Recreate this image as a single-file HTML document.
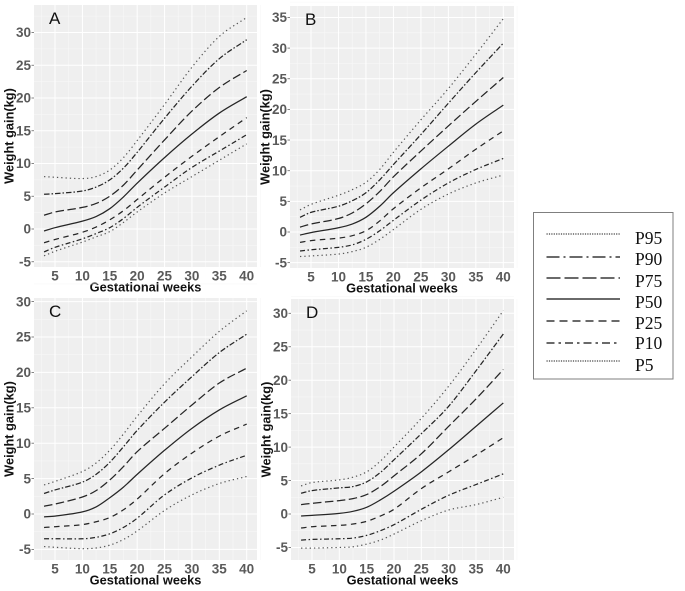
<!DOCTYPE html>
<html>
<head>
<meta charset="utf-8">
<style>
html,body{margin:0;padding:0;background:#fff;width:685px;height:591px;overflow:hidden}
svg{display:block;filter:blur(0.35px)}
.tick{font:bold 13.5px "Liberation Sans",sans-serif;fill:#5a5a5a}
.title{font:bold 12.8px "Liberation Sans",sans-serif;fill:#111}
.letter{font:17px "Liberation Sans",sans-serif;fill:#111}
.leg{font:17.5px "Liberation Serif",serif;fill:#111}
</style>
</head>
<body>
<svg id="chart" width="685" height="591" viewBox="0 0 685 591" xmlns="http://www.w3.org/2000/svg"></svg>
<script>
const weeks = [3, 5, 10, 12.5, 15, 17.5, 20, 25, 30, 35, 40];
const xTicks = [5, 10, 15, 20, 25, 30, 35, 40];
const seriesNames = ['P95', 'P90', 'P75', 'P50', 'P25', 'P10', 'P5'];
const panelNames = ['A', 'B', 'C', 'D'];

const yTicksA = [-5, 0, 5, 10, 15, 20, 25, 30];
const yTicksB = [-5, 0, 5, 10, 15, 20, 25, 30, 35];
const yTicksC = [-5, 0, 5, 10, 15, 20, 25, 30];
const yTicksD = [-5, 0, 5, 10, 15, 20, 25, 30];

const panelAValues = [
  [8, 7.9, 7.7, 8, 9, 10.9, 13.5, 19, 24.7, 29.4, 32.3],
  [5.3, 5.4, 5.8, 6.4, 7.5, 9.3, 11.7, 16.9, 21.8, 26, 28.9],
  [2.1, 2.6, 3.3, 3.9, 5, 6.7, 9, 13.6, 18, 21.6, 24.2],
  [-0.3, 0.2, 1.2, 1.9, 3.1, 4.9, 7, 10.9, 14.5, 17.7, 20.2],
  [-2.1, -1.6, -0.5, 0.3, 1.4, 2.8, 4.5, 7.9, 11.1, 14.1, 17],
  [-3.5, -2.8, -1.5, -0.7, 0.2, 1.6, 3.3, 6.4, 9.4, 11.9, 14.4],
  [-4.1, -3.4, -2, -1.2, -0.4, 1, 2.6, 5.5, 8, 10.5, 13]
];
const panelBValues = [
  [3.6, 4.5, 6, 6.9, 8.1, 10.2, 13, 18.3, 23.4, 29, 34.8],
  [2.4, 3.2, 4.2, 5.1, 6.4, 8.5, 11, 15.9, 21, 26, 30.8],
  [0.8, 1.3, 2.2, 3.1, 4.6, 6.6, 9, 13.2, 17.3, 21.3, 25.2],
  [-0.5, -0.1, 0.7, 1.3, 2.4, 4.2, 6.4, 10.3, 14, 17.6, 20.7],
  [-1.7, -1.4, -1, -0.6, 0.2, 1.8, 3.8, 7.2, 10.3, 13.5, 16.5],
  [-3.1, -2.9, -2.5, -2.1, -1.2, 0.2, 1.9, 5.2, 8, 10.2, 12],
  [-4, -3.9, -3.6, -3.2, -2.5, -1.2, 0.4, 3.7, 6.2, 8, 9.3]
];
const panelCValues = [
  [4.1, 4.6, 6, 7.2, 9, 11.3, 13.8, 18.4, 22.2, 25.8, 28.7],
  [2.9, 3.4, 4.5, 5.6, 7.3, 9.5, 11.8, 15.8, 19.4, 22.8, 25.4],
  [1.1, 1.4, 2.4, 3.3, 4.8, 6.7, 8.8, 12.1, 15.4, 18.5, 20.6],
  [-0.4, -0.3, 0.3, 1, 2.3, 3.8, 5.6, 9, 12.1, 14.7, 16.7],
  [-1.9, -1.8, -1.5, -1.1, -0.5, 0.6, 2.1, 5.7, 8.6, 11, 12.7],
  [-3.5, -3.5, -3.5, -3.3, -2.8, -1.9, -0.6, 2.7, 5.1, 6.9, 8.3],
  [-4.6, -4.7, -4.9, -4.8, -4.4, -3.6, -2.4, 0.5, 2.7, 4.3, 5.3]
];
const panelDValues = [
  [4.2, 4.7, 5.1, 5.5, 6.3, 7.9, 10, 14.3, 19.1, 24.6, 30.4],
  [3.1, 3.5, 3.9, 4.1, 4.8, 6.2, 8.1, 12, 16.1, 21.4, 26.9],
  [1.4, 1.6, 2, 2.3, 2.9, 4.1, 5.7, 9, 13.1, 17.2, 21.6],
  [-0.3, -0.2, 0.1, 0.4, 1, 2.1, 3.4, 6.3, 9.6, 13.1, 16.6],
  [-2.1, -1.9, -1.7, -1.5, -1.1, -0.3, 0.7, 3.8, 6.3, 8.8, 11.4],
  [-3.9, -3.8, -3.7, -3.6, -3.2, -2.5, -1.6, 0.7, 2.8, 4.4, 6],
  [-5.1, -5.1, -5, -4.9, -4.5, -3.9, -3, -1, 0.6, 1.4, 2.5]
];

const NS = 'http://www.w3.org/2000/svg';
const svg = document.getElementById('chart');
const dashes = ['1.3 3', '5.5 2 1.5 2', '8.5 3.5', 'none', '5.5 4.5', '5 2.5 1.5 2.5', '1.3 3'];
const legendDashes = ['1.2 1.2', '13 4 2 4', '14 4', 'none', '8 5', '8 4 2.5 4', '1.2 1.2'];
const legendY = [234, 257, 278, 299, 321, 343, 361];
const legendTextY = [244, 265, 287, 308, 329, 349, 371];

function add(parent, tag, attrs, text) {
  const el = document.createElementNS(NS, tag);
  for (const k in attrs) el.setAttribute(k, attrs[k]);
  if (text !== undefined) el.textContent = text;
  parent.appendChild(el);
  return el;
}

function linePath(xs, ys) {
  const slope = (a, b) => (ys[b] - ys[a]) / (xs[b] - xs[a]);
  let d = 'M' + xs[0].toFixed(2) + ' ' + ys[0].toFixed(2);
  for (let i = 0; i < xs.length - 1; i++) {
    const h = (xs[i + 1] - xs[i]) / 3;
    const m0 = slope(Math.max(i - 1, 0), i + 1);
    const m1 = slope(i, Math.min(i + 2, xs.length - 1));
    d += 'C' + (xs[i] + h).toFixed(2) + ' ' + (ys[i] + m0 * h).toFixed(2) + ' ' +
      (xs[i + 1] - h).toFixed(2) + ' ' + (ys[i + 1] - m1 * h).toFixed(2) + ' ' +
      xs[i + 1].toFixed(2) + ' ' + ys[i + 1].toFixed(2);
  }
  return d;
}

function drawPanel(letter, values, yTicks, box) {
  const g = add(svg, 'g', {});
  
  
  const xScale = v => box.x5 + (v - 5) * (box.x40 - box.x5) / 35;
  const yScale = v => box.y0 - v * box.unit;

  const bg = add(g, 'rect', { x: box.l, y: box.t, width: box.r - box.l, height: box.b - box.t, fill: '#efefef' });
  
  

  [0].concat(xTicks).forEach(v => {
    const minor = add(g, 'line', { x1: xScale(v + 2.5), x2: xScale(v + 2.5), y1: box.t, y2: box.b, stroke: '#f8f8f8', 'stroke-width': 0.6 });
    
    
  });
  yTicks.forEach(v => {
    const minor = add(g, 'line', { x1: box.l, x2: box.r, y1: yScale(v + 2.5), y2: yScale(v + 2.5), stroke: '#f8f8f8', 'stroke-width': 0.6 });
    
    
  });
  xTicks.forEach(v => {
    const major = add(g, 'line', { x1: xScale(v), x2: xScale(v), y1: box.t, y2: box.b, stroke: '#fff', 'stroke-width': 1 });
    
    
    const label = add(g, 'text', { x: xScale(v), y: box.b + 13.5, 'text-anchor': 'middle', class: 'tick' }, String(v));
    
    
  });
  yTicks.forEach(v => {
    const major = add(g, 'line', { x1: box.l, x2: box.r, y1: yScale(v), y2: yScale(v), stroke: '#fff', 'stroke-width': 1 });
    
    
    const tickMark = add(g, 'line', { x1: box.l - 2.5, x2: box.l, y1: yScale(v), y2: yScale(v), stroke: '#666', 'stroke-width': 0.8 });
    
    
    const label = add(g, 'text', { x: box.l - 3, y: yScale(v) + 4.7, 'text-anchor': 'end', class: 'tick' }, String(v));
    
    
  });

  const xs = weeks.map(xScale);
  values.forEach((vals, i) => {
    const p = add(g, 'path', {
      d: linePath(xs, vals.map(yScale)),
      fill: 'none',
      stroke: (i === 0 || i === 6) ? '#555' : '#262626',
      'stroke-width': (i === 0 || i === 6) ? 1.2 : 1.25
    });
    if (dashes[i] !== 'none') p.setAttribute('stroke-dasharray', dashes[i]);
    
    
  });

  const xt = add(g, 'text', { x: (box.l + box.r) / 2, y: box.b + 24.5, 'text-anchor': 'middle', class: 'title' }, 'Gestational weeks');
  
  
  const ty = (box.t + box.b) / 2;
  const yt = add(g, 'text', { x: box.l - 20.5, y: ty, 'text-anchor': 'middle', class: 'title', transform: 'rotate(-90 ' + (box.l - 20.5) + ' ' + ty + ')' }, 'Weight gain(kg)');
  
  
  const lt = add(g, 'text', { x: box.l + 15, y: box.t + 19, class: 'letter' }, letter);
  
  
}

drawPanel(panelNames[0], panelAValues, yTicksA, { l: 34, r: 257, t: 5, b: 267, x5: 55, x40: 246.7, y0: 229, unit: 6.55 });
drawPanel(panelNames[1], panelBValues, yTicksB, { l: 290, r: 514, t: 6, b: 268, x5: 311, x40: 503.3, y0: 232, unit: 6.13 });
drawPanel(panelNames[2], panelCValues, yTicksC, { l: 34, r: 257, t: 298, b: 560, x5: 55, x40: 246.7, y0: 514, unit: 7.08 });
drawPanel(panelNames[3], panelDValues, yTicksD, { l: 291, r: 514, t: 299, b: 560, x5: 312, x40: 503.3, y0: 514, unit: 6.69 });

const legend = add(svg, 'g', {});


const legendBox = add(legend, 'rect', { x: 533.5, y: 212.5, width: 139.5, height: 166.5, fill: '#fff', stroke: '#7f7f7f', 'stroke-width': 1 });


seriesNames.forEach((name, i) => {
  const line = add(legend, 'line', { x1: 546.5, x2: 620, y1: legendY[i], y2: legendY[i], stroke: '#111', 'stroke-width': (i === 0 || i === 6) ? 1 : 1.3 });
  if (legendDashes[i] !== 'none') line.setAttribute('stroke-dasharray', legendDashes[i]);
  
  
  const text = add(legend, 'text', { x: 635, y: legendTextY[i], class: 'leg' }, name);
  
  
});
</script>
</body>
</html>
